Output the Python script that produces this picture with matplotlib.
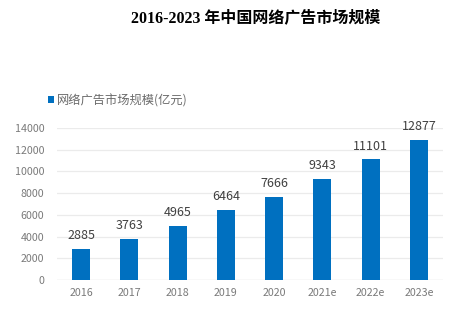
import matplotlib
matplotlib.use("Agg")
import matplotlib.pyplot as plt

categories = ["2016", "2017", "2018", "2019", "2020", "2021e", "2022e", "2023e"]
values = [2885, 3763, 4965, 6464, 7666, 9343, 11101, 12877]
yticks = [0, 2000, 4000, 6000, 8000, 10000, 12000, 14000]
title = "2016-2023 年中国网络广告市场规模"
legend_label = "网络广告市场规模(亿元)"

plt.rcParams['font.family'] = ['Noto Sans CJK SC', 'DejaVu Sans']

fig = plt.figure(figsize=(4.64, 3.22), dpi=100)
ax = fig.add_axes([0.1228, 0.1304, 0.832, 0.472])

x = list(range(len(categories)))
bars = ax.bar(x, values, width=0.37, color="#0070C0", label=legend_label, zorder=3)
for xi, v in zip(x, values):
    ax.annotate(str(v), (xi, v), xytext=(0, 5), textcoords="offset points",
                ha="center", va="bottom", fontsize=9, color="#404040")

ax.set_xlim(-0.5, len(categories) - 0.5)
ax.set_ylim(0, 14000)
ax.set_yticks(yticks)
ax.set_yticklabels([str(t) for t in yticks])
ax.set_xticks(x)
ax.set_xticklabels(categories)
ax.tick_params(axis="both", length=0, labelsize=7.7, colors="#7A7A7A")
ax.tick_params(axis="y", pad=9)
ax.tick_params(axis="x", pad=6)
ax.grid(axis="y", color="#EBEBEB", linewidth=0.9, zorder=0)
for s in ax.spines.values():
    s.set_visible(False)
ax.axhline(0, color="#E0E0E0", linewidth=0.9, zorder=2)

fig.text(0.55, 0.944, title, ha="center", va="center", fontsize=11.5,
         fontweight="bold", family=["Liberation Serif", "Noto Sans CJK SC"], color="#000000")

leg = fig.legend(handles=[bars], labels=[legend_label], loc="center left",
                 bbox_to_anchor=(0.104, 0.688), frameon=False, fontsize=8.8,
                 handlelength=0.45, handleheight=0.45, handletextpad=0.25,
                 borderaxespad=0, borderpad=0)
for t in leg.get_texts():
    t.set_color("#6A6A6A")

fig.savefig("out.png", dpi=100)
